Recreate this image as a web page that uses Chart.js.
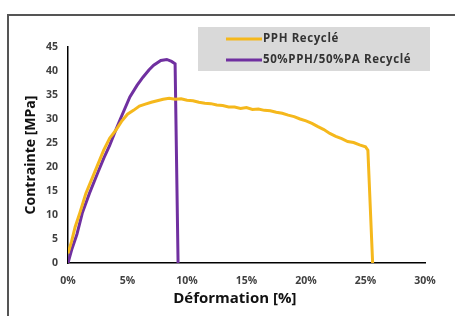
<!DOCTYPE html>
<html>
<head>
<meta charset="utf-8">
<script src="https://cdn.jsdelivr.net/npm/chart.js@4/dist/chart.umd.min.js"></script>
<style>
    html, body { margin: 0; padding: 0; background: #fff; }
    #cadre {
        position: absolute; left: 0; top: 0; width: 455px; height: 316px; overflow: hidden;
    }
    #bord {
        position: absolute; left: 7px; top: 14px; width: 470px; height: 330px;
        border: 2px solid #555; box-sizing: border-box;
    }
    canvas { position: absolute; left: 0; top: 0; }
</style>
</head>
<body>
<div id="cadre">
    <div id="bord"></div>
    <canvas id="grafico" width="455" height="316"></canvas>
</div>
<script>
// PPH Recyclé
const pphDeformation = [0, 0.3, 0.6, 1.0, 1.5, 2.0, 2.5, 3.0, 3.5, 4.0, 4.5, 5.0, 5.5, 6.0, 6.5, 7.0, 7.5, 8.0, 8.5, 9.0, 9.5, 10.0, 10.5, 11.0, 11.5, 12.0, 12.5, 13.0, 13.5, 14.0, 14.5, 15.0, 15.5, 16.0, 16.5, 17.0, 17.5, 18.0, 18.5, 19.0, 19.5, 20.0, 20.5, 21.0, 21.5, 22.0, 22.5, 23.0, 23.5, 24.0, 24.5, 25.0, 25.2, 25.6];
const pphContrainte = [2, 4.5, 7.5, 10.5, 14.5, 17.5, 20.5, 23.5, 26, 27.6, 29.5, 31, 31.8, 32.7, 33.1, 33.5, 33.8, 34.1, 34.3, 34.1, 34.2, 33.9, 33.8, 33.5, 33.3, 33.2, 32.9, 32.8, 32.5, 32.5, 32.2, 32.4, 32.0, 32.1, 31.8, 31.7, 31.4, 31.2, 30.8, 30.5, 30.0, 29.6, 29.1, 28.4, 27.8, 27.0, 26.4, 25.9, 25.3, 25.1, 24.6, 24.2, 23.5, 0];

// 50%PPH/50%PA Recyclé
const melangeDeformation = [0, 0.3, 0.75, 1.2, 1.8, 2.5, 3.0, 3.5, 3.9, 4.4, 5.2, 5.8, 6.3, 6.8, 7.2, 7.8, 8.3, 8.7, 9.0, 9.25];
const melangeContrainte = [0, 2.7, 6, 10.4, 14.5, 18.8, 21.8, 24.5, 27, 30, 34.6, 37, 38.7, 40.2, 41.2, 42.2, 42.4, 42, 41.5, 0];

const yTicks = [0, 5, 10, 15, 20, 25, 30, 35, 40, 45];
const xTicks = [0, 5, 10, 15, 20, 25, 30];

function montarPontos(xs, ys) {
    return xs.map((x, i) => ({ x, y: ys[i] }));
}

const legendaCaixa = {
    id: "legendaCaixa",
    afterDraw(chart) {
        const ctx = chart.ctx;
        ctx.save();
        ctx.fillStyle = "#d9d9d9";
        ctx.fillRect(198, 27, 232, 44);
        const linhas = [39, 60];
        chart.data.datasets.forEach((ds, i) => {
            ctx.strokeStyle = ds.borderColor;
            ctx.lineWidth = 3;
            ctx.beginPath();
            ctx.moveTo(226, linhas[i]);
            ctx.lineTo(262, linhas[i]);
            ctx.stroke();
            ctx.fillStyle = "#333";
            ctx.font = "bold 11.5px 'Open Sans'";
            ctx.letterSpacing = "0.6px";
            ctx.textBaseline = "middle";
            ctx.fillText(ds.label, 263, linhas[i]);
        });
        ctx.restore();
    }
};

const ctx = document.getElementById("grafico");

new Chart(ctx, {
    type: "line",
    data: {
        datasets: [{
            label: "PPH Recyclé",
            data: montarPontos(pphDeformation, pphContrainte),
            borderColor: "#f5b81c",
            borderWidth: 3,
            pointRadius: 0,
            tension: 0
        }, {
            label: "50%PPH/50%PA Recyclé",
            data: montarPontos(melangeDeformation, melangeContrainte),
            borderColor: "#7030a0",
            borderWidth: 3,
            pointRadius: 0,
            tension: 0
        }]
    },
    options: {
        responsive: false,
        animation: false,
        layout: {
            padding: { left: 19, right: 30, top: 47, bottom: 4 }
        },
        plugins: {
            legend: { display: false },
            tooltip: { enabled: false }
        },
        scales: {
            x: {
                type: "linear",
                min: 0,
                max: 30,
                afterFit(scale) { scale.height = 49; },
                afterBuildTicks(scale) { scale.ticks = xTicks.map(v => ({ value: v })); },
                grid: { display: false, drawTicks: false },
                border: { display: true, color: "#000", width: 1.5 },
                ticks: {
                    padding: 12,
                    color: "#404040",
                    font: { family: "Open Sans", size: 10.5, weight: "bold" },
                    callback: v => v + "%"
                },
                title: {
                    display: true,
                    text: "Déformation [%]      ",
                    color: "#111",
                    font: { family: "Open Sans", size: 15, weight: "bold" },
                    padding: { top: 0 }
                }
            },
            y: {
                min: 0,
                max: 45,
                afterFit(scale) { scale.width = 49; },
                afterBuildTicks(scale) { scale.ticks = yTicks.map(v => ({ value: v })); },
                grid: { display: false, drawTicks: false },
                border: { display: true, color: "#000", width: 1.5 },
                ticks: {
                    padding: 10,
                    color: "#404040",
                    font: { family: "Open Sans", size: 10.5, weight: "bold" }
                },
                title: {
                    display: true,
                    text: "Contrainte [MPa]",
                    color: "#111",
                    font: { family: "Open Sans", size: 14, weight: "bold" },
                    padding: { bottom: 0 }
                }
            }
        }
    },
    plugins: [legendaCaixa]
});
</script>
</body>
</html>
